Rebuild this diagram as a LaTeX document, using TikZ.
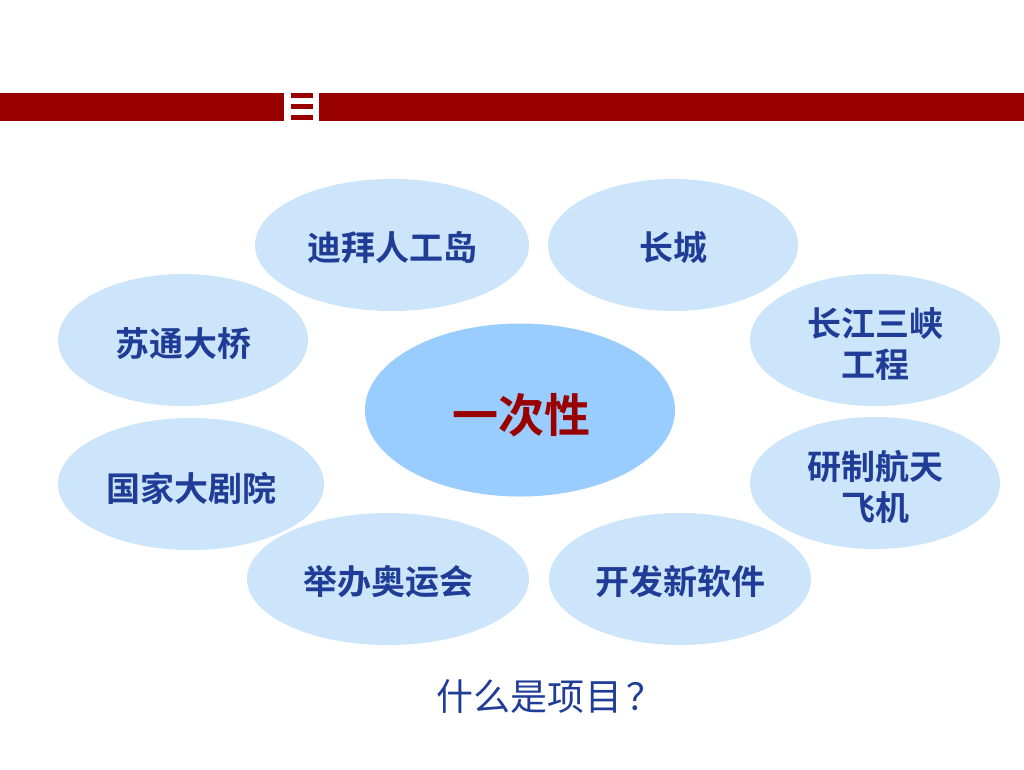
\documentclass[tikz,border=0pt]{standalone}
\usepackage{fontspec}
\usetikzlibrary{shapes.geometric}
\newfontfamily\cjk{Noto Sans CJK SC}[BoldFont={Noto Sans CJK SC Bold}]
\definecolor{barred}{RGB}{153,0,0}
\definecolor{lightblob}{RGB}{204,229,250}
\definecolor{centerblob}{RGB}{153,204,255}
\definecolor{txtblue}{RGB}{31,60,150}
\tikzset{
  blob/.style={ellipse, fill=lightblob, draw=none, inner sep=0pt, align=center},
  blobtext/.style={inner sep=0pt, align=center,
    font=\cjk\bfseries\fontsize{34}{41}\selectfont, text=txtblue},
}
\begin{document}
\begin{tikzpicture}[x=1pt,y=-1pt]
\useasboundingbox (0,0) rectangle (1024,769);
\fill[white] (0,0) rectangle (1024,769);
% top bar
\fill[barred] (0,93) rectangle (284,121);
\fill[barred] (319,93) rectangle (1024,121);
\fill[barred] (291,93) rectangle (313,98);
\fill[barred] (291,104) rectangle (313,109);
\fill[barred] (291,115) rectangle (313,120);
% ellipses
\node[blob, minimum width=274, minimum height=132] (dubai) at (392,245) {};
\node[blob, minimum width=250, minimum height=132] (wall) at (673,245) {};
\node[blob, minimum width=250, minimum height=132] (sutong) at (183,340) {};
\node[blob, minimum width=250, minimum height=132] (sanxia) at (875,340) {};
\node[blob, minimum width=250, minimum height=132] (shuttle) at (875,483) {};
\node[blob, minimum width=266, minimum height=132] (theatre) at (191,484) {};
\node[blob, minimum width=282, minimum height=132] (olympic) at (388,579) {};
\node[blob, minimum width=262, minimum height=132] (software) at (680,579) {};
\node[ellipse, fill=centerblob, inner sep=0pt, minimum width=310, minimum height=173] (center) at (520,410) {};
% texts
\node[blobtext] (tdubai) at ([yshift=-3pt]dubai.center) {迪拜人工岛};
\node[blobtext] (twall) at ([yshift=-3pt]wall.center) {长城};
\node[blobtext] (tsutong) at ([yshift=-4pt]sutong.center) {苏通大桥};
\node[blobtext] (tsanxia) at ([yshift=-4pt]sanxia.center) {长江三峡\\工程};
\node[blobtext] (tshuttle) at ([yshift=-4pt]shuttle.center) {研制航天\\飞机};
\node[blobtext] (ttheatre) at ([yshift=-4pt]theatre.center) {国家大剧院};
\node[blobtext] (tolympic) at ([yshift=-3pt]olympic.center) {举办奥运会};
\node[blobtext] (tsoftware) at ([yshift=-3pt]software.center) {开发新软件};
\node[inner sep=0pt, font=\cjk\bfseries\fontsize{46}{50}\selectfont, text=barred] (tcenter) at ([xshift=1pt,yshift=-5pt]center.center) {一次性};
% caption
\node[font=\cjk\fontsize{37}{40}\selectfont, text=txtblue, inner sep=0pt] (caption) at (550,697) {什么是项\kern1pt 目\kern4pt ？};
\end{tikzpicture}
\end{document}
